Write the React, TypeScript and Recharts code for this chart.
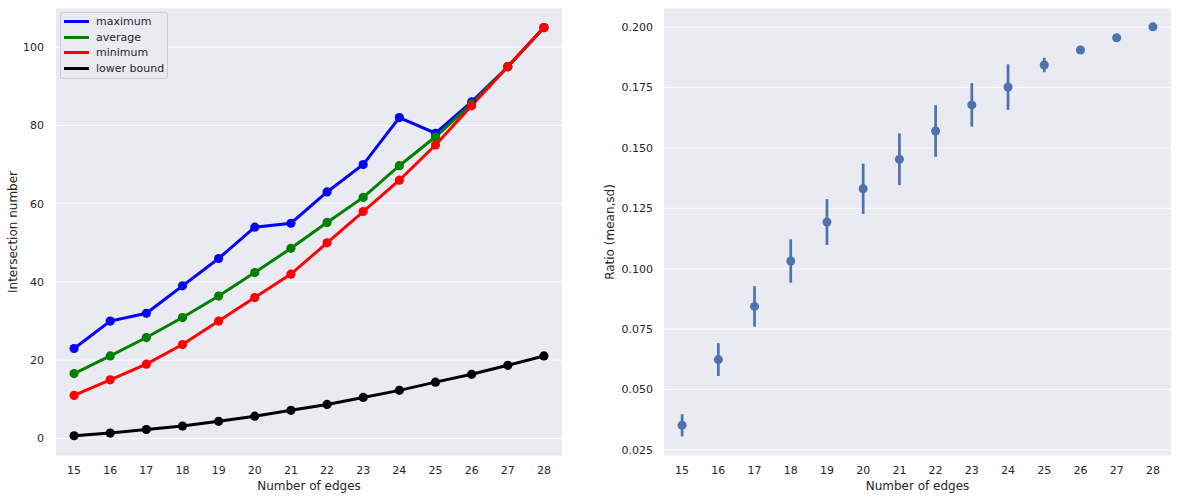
import React from "react";
import {
  ComposedChart,
  Line,
  Scatter,
  ErrorBar,
  XAxis,
  YAxis,
  CartesianGrid,
  Label,
} from "recharts";

const edges = [15, 16, 17, 18, 19, 20, 21, 22, 23, 24, 25, 26, 27, 28];
const maximum = [23, 30, 32, 39, 46, 54, 55, 63, 70, 82, 78, 86, 95, 105];
const average = [16.6, 21.1, 25.8, 30.9, 36.4, 42.4, 48.6, 55.2, 61.6, 69.7, 77.1, 85.5, 95, 105];
const minimum = [11, 15, 19, 24, 30, 36, 42, 50, 58, 66, 75, 85, 95, 105];
const lowerBound = [0.7, 1.4, 2.3, 3.2, 4.4, 5.7, 7.2, 8.7, 10.5, 12.3, 14.4, 16.4, 18.7, 21.1];

const ratioMean = [0.0352, 0.0624, 0.0844, 0.1032, 0.1193, 0.1331, 0.1453, 0.157, 0.1678, 0.1752, 0.1843, 0.1905, 0.1956, 0.2001];
const ratioSd = [0.0046, 0.0068, 0.0084, 0.009, 0.0095, 0.0104, 0.0107, 0.0107, 0.009, 0.0094, 0.003, 0, 0, 0];

const leftTicks = [0, 20, 40, 60, 80, 100];
const rightTicks = [0.025, 0.05, 0.075, 0.1, 0.125, 0.15, 0.175, 0.2];

const seriesNames = ["maximum", "average", "minimum", "lower bound"];
const seriesKeys = ["maximum", "average", "minimum", "lowerBound"];
const seriesColors = ["#0000ff", "#008000", "#ff0000", "#000000"];

const leftData = edges.map((e, i) => ({
  edges: e,
  maximum: maximum[i],
  average: average[i],
  minimum: minimum[i],
  lowerBound: lowerBound[i],
}));

const rightData = edges.map((e, i) => ({
  edges: e,
  ratio: ratioMean[i],
  sd: ratioSd[i],
}));

const FONT = "'DejaVu Sans', sans-serif";
const TEXT = "#262626";
const BG = "#EAEAF2";
const tickStyle = { fill: TEXT, fontSize: 11, fontFamily: FONT };

export default function App() {
  return (
    <div
      style={{
        position: "absolute",
        left: 0,
        top: 0,
        width: 1177,
        height: 500,
        background: "#ffffff",
        fontFamily: FONT,
      }}
    >
      <div style={{ position: "absolute", left: 0, top: 0 }}>
        <ComposedChart
          width={580}
          height={500}
          data={leftData}
          margin={{ top: 8, right: 18, bottom: 0, left: 0 }}
        >
          <CartesianGrid vertical={false} stroke="#ffffff" strokeWidth={1} fill={BG} />
          <XAxis
            type="number"
            dataKey="edges"
            domain={[14.5, 28.5]}
            ticks={edges}
            interval={0}
            axisLine={false}
            tickLine={false}
            tickMargin={4}
            height={44}
            tick={tickStyle}
          >
            <Label
              value="Number of edges"
              position="insideBottom"
              offset={10}
              style={{ fill: TEXT, fontSize: 12, fontFamily: FONT }}
            />
          </XAxis>
          <YAxis
            type="number"
            domain={[-4.47, 110]}
            ticks={leftTicks}
            interval={0}
            axisLine={false}
            tickLine={false}
            tickMargin={6}
            width={56}
            tick={tickStyle}
            allowDataOverflow
          >
            <Label
              value="Intersection number"
              position="center"
              angle={-90}
              dx={-15.5}
              style={{ fill: TEXT, fontSize: 12, fontFamily: FONT, textAnchor: "middle" }}
            />
          </YAxis>
          {seriesKeys.map((k, i) => (
            <Line
              key={k}
              type="linear"
              dataKey={k}
              name={seriesNames[i]}
              stroke={seriesColors[i]}
              strokeWidth={3}
              dot={{ r: 4.6, fill: seriesColors[i], stroke: seriesColors[i], strokeWidth: 0 }}
              activeDot={false}
              isAnimationActive={false}
            />
          ))}
        </ComposedChart>
        <div
          style={{
            position: "absolute",
            left: 60,
            top: 11.7,
            width: 106,
            padding: "1.5px 0",
            border: "1px solid #cccccc",
            borderRadius: 3,
            background: BG,
            boxSizing: "content-box",
          }}
        >
          {seriesNames.map((n, i) => (
            <div
              key={n}
              style={{
                display: "flex",
                alignItems: "center",
                height: 15.5,
                paddingLeft: 3,
              }}
            >
              <div
                style={{
                  width: 25,
                  height: 3,
                  background: seriesColors[i],
                  marginRight: 7,
                }}
              />
              <span style={{ fontSize: 11, color: TEXT, fontFamily: FONT, whiteSpace: "nowrap" }}>{n}</span>
            </div>
          ))}
        </div>
      </div>
      <div style={{ position: "absolute", left: 590, top: 0 }}>
        <ComposedChart
          width={587}
          height={500}
          data={rightData}
          margin={{ top: 8, right: 6, bottom: 0, left: 0 }}
        >
          <CartesianGrid vertical={false} stroke="#ffffff" strokeWidth={1} fill={BG} />
          <XAxis
            type="number"
            dataKey="edges"
            domain={[14.5, 28.5]}
            ticks={edges}
            interval={0}
            axisLine={false}
            tickLine={false}
            tickMargin={4}
            height={44}
            tick={tickStyle}
          >
            <Label
              value="Number of edges"
              position="insideBottom"
              offset={10}
              style={{ fill: TEXT, fontSize: 12, fontFamily: FONT }}
            />
          </XAxis>
          <YAxis
            type="number"
            dataKey="ratio"
            domain={[0.0225, 0.2079]}
            ticks={rightTicks}
            interval={0}
            axisLine={false}
            tickLine={false}
            tickMargin={5}
            width={74}
            tick={tickStyle}
            tickFormatter={(v: number) => v.toFixed(3)}
            allowDataOverflow
          >
            <Label
              value="Ratio (mean,sd)"
              position="center"
              angle={-90}
              dx={-17}
              style={{ fill: TEXT, fontSize: 12, fontFamily: FONT, textAnchor: "middle" }}
            />
          </YAxis>
          <Scatter
            dataKey="ratio"
            fill="#4c72b0"
            shape="circle"
            isAnimationActive={false}
          >
            <ErrorBar
              dataKey="sd"
              direction="y"
              width={0}
              stroke="#4c72b0"
              strokeWidth={2.7}
              isAnimationActive={false}
            />
          </Scatter>
        </ComposedChart>
      </div>
    </div>
  );
}
